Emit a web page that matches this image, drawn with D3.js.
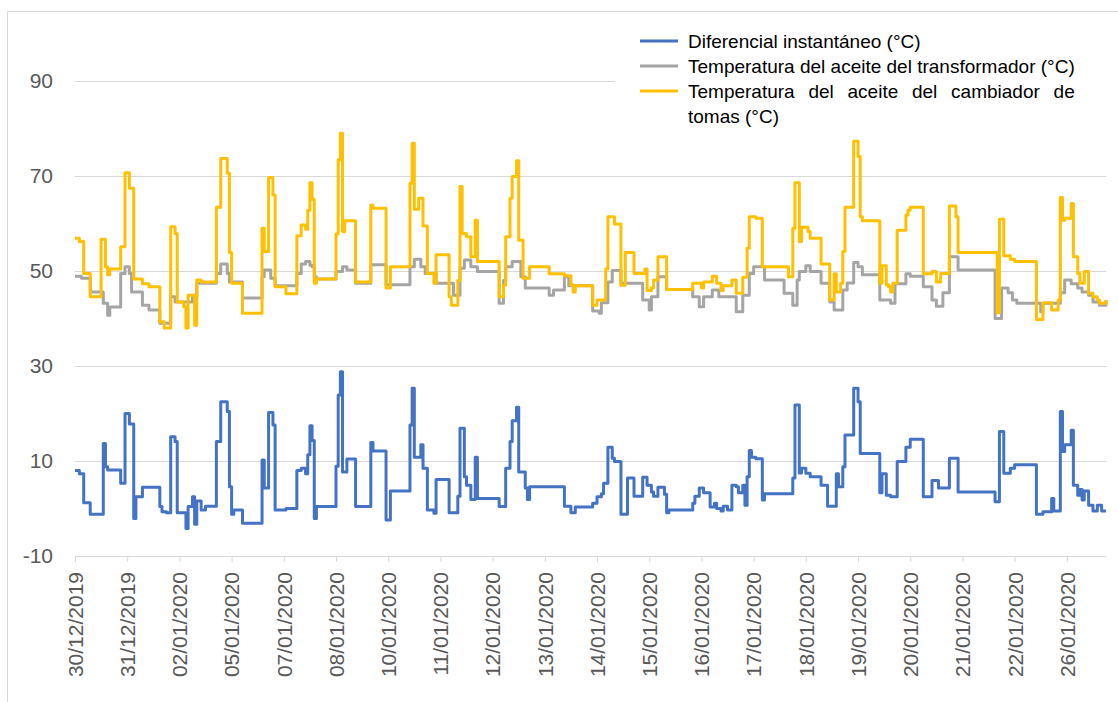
<!DOCTYPE html>
<html lang="es">
<head>
<meta charset="UTF-8">
<title>Temperaturas del transformador</title>
<style>
  body { margin: 0; background: #fff; }
  svg text { font-family: "Liberation Sans", Arial, sans-serif; }
</style>
</head>
<body>
<div id="graph"></div>
<script src="https://cdn.jsdelivr.net/npm/d3@7/dist/d3.min.js"></script>
<script>
const WIDTH = 1118;
const HEIGHT = 702;
const X_LEFT = 75;
const X_RIGHT = 1106;
const Y_TOP = 81;
const Y_BOTTOM = 556;

// etiquetas del eje X (una cada 24 muestras)
const DATE_LABELS = ["30/12/2019", "31/12/2019", "02/01/2020", "05/01/2020", "07/01/2020",
  "08/01/2020", "10/01/2020", "11/01/2020", "12/01/2020", "13/01/2020", "14/01/2020",
  "15/01/2020", "16/01/2020", "17/01/2020", "18/01/2020", "19/01/2020", "20/01/2020",
  "21/01/2020", "22/01/2020", "26/01/2020"];
const SAMPLES_PER_LABEL = 24;
const LAST_SAMPLE = 474;

const Y_TICKS = [-10, 10, 30, 50, 70, 90];

const LEGEND_LABELS = [
  "Diferencial instantáneo (°C)",
  "Temperatura del aceite del transformador (°C)",
  "Temperatura del aceite del cambiador de tomas (°C)"
];

// [muestra, valor] - la serie mantiene el valor hasta la siguiente muestra
const diferencial = [[0,8.0],[2,7.3],[4,1.2],[7,-1.2],[13,13.7],[14,8.8],[15,8.1],[21,5.3],[23,20.0],[25,17.8],[27,-2.1],[28,2.5],[31,4.5],[39,0.4],[40,-0.7],[42,-0.9],[44,15.1],[46,14.1],[47,-0.9],[51,-4.2],[52,0.4],[54,2.5],[55,-3.3],[56,1.6],[58,-0.3],[60,0.5],[65,14.1],[67,22.5],[70,20.4],[71,4.6],[72,-1.2],[73,-0.3],[77,-3.1],[86,10.2],[87,4.3],[89,20.2],[91,17.6],[92,-0.3],[97,0.0],[102,8.0],[104,8.5],[106,7.3],[107,11.3],[108,17.4],[109,14.3],[110,-2.1],[111,0.4],
  [120,8.9],[121,23.9],[122,28.8],[123,7.7],[125,10.4],[129,0.4],[136,13.9],[137,12.1],[143,-2.4],[145,3.7],[154,17.6],[155,25.3],[156,10.8],[159,13.4],[160,8.5],[162,-0.3],[165,-1.0],[166,6.1],[172,-0.9],[176,2.6],[177,16.9],[179,6.7],[180,4.9],[182,1.9],[184,10.8],[185,2.1],[195,0.4],[198,8.5],[200,14.1],[201,18.5],[203,21.3],[204,7.7],[207,4.3],[208,1.9],[209,4.6],[225,0.5],[228,-0.9],[230,0.3],
  [238,1.1],[240,2.5],[242,3.1],[243,5.3],[245,12.9],[247,10.6],[248,9.9],[251,-1.2],[254,6.4],[257,2.6],[261,6.6],[263,4.9],[265,3.5],[266,2.6],[268,4.5],[271,3.0],[272,-0.9],[273,-0.3],[284,1.1],[285,2.6],[287,4.3],[289,3.3],[292,0.3],[294,1.1],[295,0.0],[297,-0.5],[298,0.5],[300,-0.3],[302,4.9],[304,4.6],[305,3.3],[307,4.9],[308,0.7],[309,6.7],[310,12.2],[311,10.8],[313,10.5],[316,1.8],[317,3.1],[330,6.4],[331,21.8],[333,7.5],[334,8.5],[336,7.4],[338,6.7],[343,4.9],[346,0.5],[350,7.3],[351,4.6],
  [353,8.8],[354,15.5],[358,25.3],[360,22.5],[361,11.6],[370,3.3],[371,7.3],[373,2.8],[375,2.5],[378,9.9],[382,12.9],[384,14.6],[390,2.5],[394,5.9],[397,4.3],[402,10.6],[406,3.5],[423,1.4],[425,16.2],[427,7.4],[430,8.5],[432,9.2],[442,-1.2],[445,-0.7],[449,2.1],[450,-0.5],[453,20.4],[454,12.0],[455,13.4],[458,16.5],[459,4.9],[461,2.8],[462,4.0],[463,1.8],[464,3.7],[466,0.7],[468,-0.5],[470,0.7],[472,-0.5],[474,-0.5]];

const transformador = [[0,48.9],[3,48.5],[7,45.6],[13,43.2],[15,40.7],[16,42.4],[21,49.5],[23,50.9],[25,49.5],[26,45.6],[31,42.8],[34,41.8],[39,39.0],[44,44.6],[46,43.5],[54,44.5],[56,47.4],[65,49.5],[67,51.5],[70,49.5],[71,47.7],[77,44.3],[86,48.8],[87,50.2],[90,48.5],[92,46.9],[102,49.5],[104,51.5],[106,52.0],[108,51.2],[109,50.9],[110,48.8],[111,48.3],
  [120,49.9],[123,50.9],[125,50.2],[129,47.4],[136,51.3],[143,47.1],[154,50.9],[156,52.5],[159,50.9],[161,49.5],[166,47.4],[174,44.9],[177,50.6],[179,52.3],[182,50.9],[185,49.9],[195,43.2],[197,48.0],[198,50.9],[201,52.0],[205,48.8],[207,46.4],[218,44.9],[220,46.0],[225,48.8],[227,46.9],
  [238,41.6],[241,41.1],[242,43.3],[245,47.7],[247,50.1],[251,47.4],[261,43.9],[264,41.8],[265,44.6],[268,48.8],[272,46.1],[284,44.6],[287,42.5],[289,44.6],[293,46.0],[296,44.6],[304,41.4],[307,44.9],[310,49.5],[312,50.9],[317,48.1],[326,45.3],[330,42.8],[332,48.1],[333,49.9],[336,51.1],[338,49.9],[343,47.4],[347,43.5],[349,41.8],
  [353,46.0],[355,47.5],[358,51.8],[360,50.9],[362,49.2],[370,43.9],[375,43.2],[377,47.3],[382,49.4],[384,48.9],[390,46.7],[394,43.9],[396,42.6],[399,45.4],[402,53.0],[406,50.2],[423,40.0],[426,46.4],[429,45.4],[431,43.9],[433,43.2],[444,41.4],[445,43.2],[453,45.4],[455,48.1],[458,47.3],[461,46.4],[463,45.6],[466,44.9],[468,43.5],[471,42.8],[474,43.9]];

const cambiador = [[0,56.9],[2,56.2],[4,49.5],[7,44.6],[12,56.7],[14,50.9],[15,49.2],[16,50.4],[21,55.1],[23,70.7],[25,67.4],[27,48.3],[31,47.3],[34,46.7],[39,39.3],[41,38.0],[44,59.3],[46,57.9],[47,43.5],[50,42.5],[51,38.0],[52,44.9],[55,38.6],[56,48.1],[58,47.7],[65,63.4],[67,73.7],[70,70.6],[71,53.9],[72,47.4],[77,41.1],[86,59.0],[87,54.1],[89,69.7],[91,66.0],[92,46.7],[97,45.2],[102,57.4],[104,59.7],[106,58.8],[107,62.8],[108,68.6],[109,65.1],[110,47.4],[111,48.3],
  [120,57.8],[121,73.4],[122,79.0],[123,58.3],[124,60.6],[129,47.7],[136,63.9],[137,63.2],[143,46.4],[145,50.9],[154,68.5],[155,76.9],[156,63.0],[158,65.3],[160,59.5],[162,49.5],[165,47.4],[166,53.4],[172,44.6],[173,42.8],[176,48.0],[177,67.8],[178,57.9],[180,57.2],[182,53.0],[184,60.7],[185,52.0],[195,44.6],[197,47.0],[198,57.2],[200,65.3],[201,69.9],[203,73.2],[204,56.5],[206,48.5],[209,50.9],[218,49.4],[225,49.0],[228,47.1],[229,45.6],[230,46.9],
  [238,42.8],[240,43.9],[244,50.4],[245,61.4],[248,59.9],[251,47.0],[253,53.9],[257,49.5],[262,50.4],[263,45.9],[265,46.5],[266,48.1],[268,53.0],[272,46.1],[284,47.4],[288,46.4],[289,47.7],[293,48.9],[295,47.4],[297,45.9],[298,46.9],[302,48.1],[304,45.3],[307,48.7],[309,54.8],[310,61.4],[313,61.1],[316,50.9],[328,48.8],[330,59.0],[331,68.6],[333,56.2],[334,59.2],[337,58.3],[338,56.9],[343,51.5],[347,43.9],[349,49.4],[350,45.6],[352,47.4],[353,54.1],
  [354,63.4],[358,77.3],[360,74.1],[361,61.4],[362,60.6],[370,47.4],[371,51.1],[373,47.1],[374,46.7],[375,45.6],[376,47.4],[378,58.6],[382,61.8],[383,62.8],[384,63.4],[390,49.4],[394,49.9],[396,47.7],[398,49.5],[402,63.7],[405,61.4],[406,53.9],[424,41.2],[425,60.9],[427,53.2],[430,52.5],[432,52.0],[442,39.8],[445,43.3],[449,41.8],[452,43.9],[453,65.5],[454,60.7],[455,61.1],[458,64.2],[459,53.0],[461,49.5],[462,47.4],[464,49.9],[466,45.3],[468,44.6],[470,43.9],[471,43.2],[474,43.9]];

const SERIES = [
  { data: diferencial, color: "#4472C4" },
  { data: transformador, color: "#A5A5A5" },
  { data: cambiador, color: "#FFC000" }
];

const xScale = d3.scaleLinear()
  .domain([0, LAST_SAMPLE])
  .range([X_LEFT, X_RIGHT]);

const yScale = d3.scaleLinear()
  .domain([-10, 90])
  .range([Y_BOTTOM, Y_TOP]);

const svg = d3.select("#graph")
  .append("svg")
  .attr("width", WIDTH)
  .attr("height", HEIGHT);

svg.append("rect").attr("width", WIDTH).attr("height", HEIGHT).attr("fill", "#fff");

// marco del gráfico
svg.append("path")
  .attr("d", `M7.5,${HEIGHT + 5}V11.5H${WIDTH + 5}`)
  .attr("fill", "none")
  .attr("stroke", "#d9d9d9");

// cuadrícula y etiquetas del eje Y
const yAxis = svg.append("g")
  .attr("transform", `translate(${X_LEFT},0)`)
  .call(d3.axisLeft(yScale)
    .tickValues(Y_TICKS)
    .tickSize(-(X_RIGHT - X_LEFT))
    .tickPadding(22)
    .tickFormat(d => String(d)));
yAxis.select(".domain").remove();
yAxis.selectAll("line").attr("stroke", "#d9d9d9").attr("stroke-width", 1);
yAxis.selectAll("text")
  .attr("fill", "#595959")
  .style("font-size", "21px")
  .style("font-family", "'Liberation Sans', Arial, sans-serif");

// eje X
const xAxis = svg.append("g")
  .attr("transform", `translate(0,${Y_BOTTOM})`)
  .call(d3.axisBottom(xScale)
    .tickValues(DATE_LABELS.map((d, i) => i * SAMPLES_PER_LABEL))
    .tickSize(6)
    .tickSizeOuter(0)
    .tickFormat((d, i) => DATE_LABELS[i]));
xAxis.select(".domain").attr("stroke", "#d9d9d9");
xAxis.selectAll("line").attr("stroke", "#d9d9d9");
xAxis.selectAll("text")
  .attr("fill", "#595959")
  .style("font-size", "21px")
  .style("font-family", "'Liberation Sans', Arial, sans-serif")
  .style("text-anchor", "end")
  .attr("x", -16)
  .attr("y", 0)
  .attr("dy", "0.35em")
  .attr("transform", "rotate(-90)");

// series
const line = d3.line()
  .x(d => xScale(d[0]))
  .y(d => yScale(d[1]))
  .curve(d3.curveStepAfter);

SERIES.forEach(s => {
  svg.append("path")
    .datum(s.data)
    .attr("fill", "none")
    .attr("stroke", s.color)
    .attr("stroke-width", 3)
    .attr("stroke-linejoin", "round")
    .attr("d", line);
});

// leyenda
const legend = svg.append("g");
legend.append("rect")
  .attr("x", 615).attr("y", 24)
  .attr("width", 495).attr("height", 106)
  .attr("fill", "#fff");

const LEGEND_X = 688;
const LEGEND_Y = 41;
const LEGEND_STEP = 25;

SERIES.forEach((s, i) => {
  legend.append("line")
    .attr("x1", 640).attr("x2", 678)
    .attr("y1", LEGEND_Y + i * LEGEND_STEP).attr("y2", LEGEND_Y + i * LEGEND_STEP)
    .attr("stroke", s.color)
    .attr("stroke-width", 3);
});

const legendText = (txt, x, y) => legend.append("text")
  .attr("x", x).attr("y", y)
  .attr("dy", "0.35em")
  .attr("fill", "#000")
  .style("font-size", "19px")
  .text(txt);

legendText(LEGEND_LABELS[0], LEGEND_X, LEGEND_Y);
const t2 = legendText(LEGEND_LABELS[1], LEGEND_X, LEGEND_Y + LEGEND_STEP);
const justifyWidth = t2.node().getComputedTextLength();

// tercera entrada justificada en dos líneas
const words = LEGEND_LABELS[2].split(" ");
const firstLine = words.slice(0, words.length - 2);
const rest = words.slice(words.length - 2).join(" ");
const wordNodes = firstLine.map(w => legendText(w, 0, LEGEND_Y + 2 * LEGEND_STEP));
const widths = wordNodes.map(n => n.node().getComputedTextLength());
const gap = (justifyWidth - d3.sum(widths)) / (firstLine.length - 1);
let cursor = LEGEND_X;
wordNodes.forEach((n, i) => {
  n.attr("x", cursor);
  cursor += widths[i] + gap;
});
legendText(rest, LEGEND_X, LEGEND_Y + 3 * LEGEND_STEP);
</script>
</body>
</html>
